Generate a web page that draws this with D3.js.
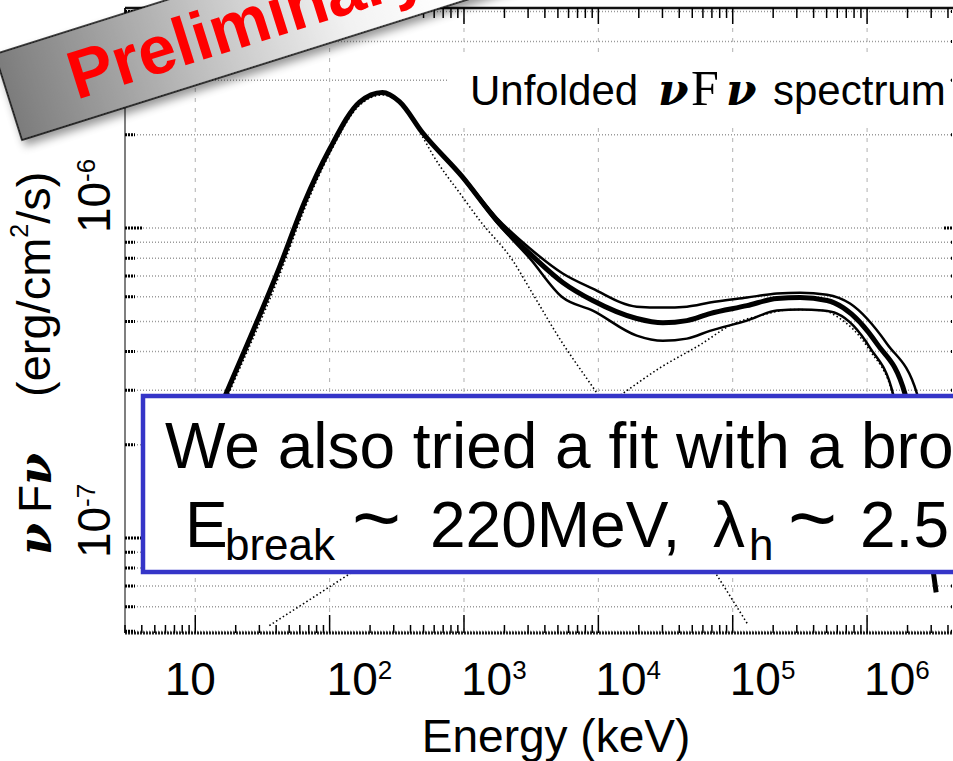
<!DOCTYPE html>
<html>
<head>
<meta charset="utf-8">
<script src="https://cdn.jsdelivr.net/npm/d3@7"></script>
<style>
  html, body { margin: 0; padding: 0; background: #fff; overflow: hidden; }
  svg { display: block; font-family: "Liberation Sans", Arial, sans-serif; }
</style>
</head>
<body>
<script>
// ---- data: energy (keV) vs nuFnu (erg/cm2/s) ----
var totalE = [10, 17.3, 42.3, 64.9, 99.5, 167, 247, 331, 492, 977, 1750, 3080, 5430, 9080,
              19300, 30200, 45600, 67600, 127600, 213300, 317000, 503500, 662200,
              1.186e6, 1.919e6, 2.483e6, 3.266e6];
var totalF = [1.71e-7, 2.98e-7, 7.47e-7, 1.21e-6, 1.79e-6, 2.55e-6, 2.74e-6, 2.56e-6, 2.03e-6, 1.46e-6,
              1.06e-6, 8.29e-7, 6.68e-7, 5.84e-7, 5.11e-7, 4.95e-7, 5.03e-7, 5.30e-7, 5.62e-7,
              5.93e-7, 5.97e-7, 5.84e-7, 5.54e-7, 4.23e-7, 2.91e-7, 1.52e-7, 6.68e-8];

var upperE = [10, 17.3, 42.3, 64.9, 99.5, 167, 247, 331, 492, 977, 1750, 3080, 5430, 9080,
              19300, 30200, 45600, 67600, 127600, 213300, 317000, 503500, 746500,
              1.409e6, 2.360e6, 3.214e6];
var upperF = [1.71e-7, 2.98e-7, 7.47e-7, 1.21e-6, 1.79e-6, 2.55e-6, 2.74e-6, 2.56e-6, 2.03e-6, 1.47e-6,
              1.08e-6, 8.61e-7, 7.14e-7, 6.38e-7, 5.58e-7, 5.54e-7, 5.58e-7, 5.75e-7, 5.97e-7,
              6.15e-7, 6.19e-7, 6.10e-7, 5.71e-7, 4.23e-7, 2.91e-7, 1.26e-7];

var lowerE = [10, 17.3, 42.3, 64.9, 99.5, 167, 247, 331, 492, 977, 1750, 3080, 5430, 9080,
              19300, 30200, 45600, 67600, 127600, 213300, 317000, 470000, 598400,
              1.052e6, 1.563e6, 2.280e6];
var lowerF = [1.71e-7, 2.98e-7, 7.47e-7, 1.21e-6, 1.79e-6, 2.55e-6, 2.74e-6, 2.56e-6, 2.03e-6, 1.45e-6,
              1.045e-6, 8.00e-7, 5.97e-7, 5.42e-7, 4.50e-7, 4.33e-7, 4.40e-7, 4.66e-7, 5.03e-7,
              5.42e-7, 5.46e-7, 5.42e-7, 5.30e-7, 4.11e-7, 2.91e-7, 8.36e-8];

// dotted components
var bandE = [10, 17.3, 42.3, 64.9, 99.5, 167, 247, 331, 492, 583, 977, 1306, 2300, 3240, 5150, 9730, 76200, 129700];
var bandF = [1.64e-7, 2.85e-7, 7.04e-7, 1.15e-6, 1.73e-6, 2.49e-6, 2.69e-6, 2.53e-6, 1.97e-6, 1.73e-6,
             1.26e-6, 1.06e-6, 7.87e-7, 6.15e-7, 4.40e-7, 2.94e-7, 7.59e-8, 5.26e-8];

var extraE = [35.6, 136, 14900, 28700, 57000, 100200, 159600, 281200, 470000, 598400, 1.052e6, 1.563e6, 2.28e6];
var extraF = [5.22e-8, 7.59e-8, 2.91e-7, 3.54e-7, 4.20e-7, 4.90e-7, 5.22e-7, 5.46e-7, 5.42e-7, 5.18e-7,
              4.02e-7, 2.87e-7, 8.0e-8];

// tick labels
var xLabelVals = [10, 1e2, 1e3, 1e4, 1e5, 1e6];
var xLabelExp  = ["", "2", "3", "4", "5", "6"];
var yLabelVals = [1e-6, 1e-7];
var yLabelExp  = ["-6", "-7"];

var titleText = "Unfolded";
var titleTail = "spectrum";
var noteLine1 = "We also tried a fit with a bro";

// ---- layout ----
var width = 953, height = 761;
var mLeft = 125, mRight = 961, mTop = 8, mBottom = 633;

var svg = d3.select("body").append("svg")
            .attr("width", width)
            .attr("height", height);

var x = d3.scaleLog().domain([3, 5e6]).range([mLeft, mRight]);
var y = d3.scaleLog().domain([4.94e-8, 5.13e-6]).range([mBottom, mTop]);

function isMajor(v) {
  var l = Math.log10(v);
  return Math.abs(l - Math.round(l)) < 1e-6;
}

var xt = x.ticks(), yt = y.ticks();

// grid
svg.append("g").selectAll("line")
   .data(yt).enter().append("line")
   .attr("x1", mLeft).attr("x2", mRight)
   .attr("y1", function(d){ return y(d); })
   .attr("y2", function(d){ return y(d); })
   .attr("stroke", "#9a9a9a").attr("stroke-width", 1.5)
   .attr("stroke-dasharray", "1,2");

svg.append("g").selectAll("line")
   .data(xt.filter(isMajor)).enter().append("line")
   .attr("x1", function(d){ return x(d); })
   .attr("x2", function(d){ return x(d); })
   .attr("y1", mTop).attr("y2", mBottom)
   .attr("stroke", "#b0b0b0").attr("stroke-width", 1)
   .attr("stroke-dasharray", "4,6");

// curves
var line = d3.line()
             .x(function(d){ return x(d[0]); })
             .y(function(d){ return y(d[1]); })
             .curve(d3.curveMonotoneX);

function drawCurve(es, fs, w, dash) {
  svg.append("path")
     .attr("d", line(d3.zip(es, fs)))
     .attr("fill", "none")
     .attr("stroke", "#000")
     .attr("stroke-width", w)
     .attr("stroke-dasharray", dash)
     .attr("stroke-linejoin", "round");
}

drawCurve(bandE, bandF, 1.6, "1.5,2.5");
drawCurve(extraE, extraF, 1.6, "1.5,2.5");
drawCurve(upperE, upperF, 2.5, null);
drawCurve(lowerE, lowerF, 2.5, null);
drawCurve(totalE, totalF, 5, null);

// axes frame
svg.append("line").attr("x1", mLeft).attr("x2", mLeft).attr("y1", mTop).attr("y2", mBottom)
   .attr("stroke", "#555").attr("stroke-width", 1.5);
svg.append("line").attr("x1", mLeft).attr("x2", mRight).attr("y1", mTop).attr("y2", mTop)
   .attr("stroke", "#111").attr("stroke-width", 2.5);
svg.append("line").attr("x1", mLeft).attr("x2", mRight).attr("y1", mBottom).attr("y2", mBottom)
   .attr("stroke", "#222").attr("stroke-width", 3).attr("stroke-dasharray", "2,1");

// ticks (all pointing inward)
var tk = svg.append("g");
yt.forEach(function(t) {
  var len = isMajor(t) ? 18 : 10;
  tk.append("line").attr("x1", mLeft).attr("x2", mLeft + len)
    .attr("y1", y(t)).attr("y2", y(t))
    .attr("stroke", "#000").attr("stroke-width", 3).attr("stroke-dasharray", "2,1");
  tk.append("line").attr("x1", mRight).attr("x2", mRight - len)
    .attr("y1", y(t)).attr("y2", y(t))
    .attr("stroke", "#000").attr("stroke-width", 3).attr("stroke-dasharray", "2,1");
});
xt.forEach(function(t) {
  var maj = isMajor(t);
  tk.append("line").attr("x1", x(t)).attr("x2", x(t))
    .attr("y1", mBottom).attr("y2", mBottom - (maj ? 18 : 8))
    .attr("stroke", "#000").attr("stroke-width", 1.5);
  tk.append("line").attr("x1", x(t)).attr("x2", x(t))
    .attr("y1", mTop).attr("y2", mTop + (maj ? 16 : 10))
    .attr("stroke", "#000").attr("stroke-width", 1.5);
});

// x tick labels
xLabelVals.forEach(function(v, i) {
  var t = svg.append("text").attr("y", 695).attr("font-size", 46).attr("fill", "#000");
  if (xLabelExp[i] === "") {
    t.attr("x", x(v) - 5).attr("text-anchor", "middle").text("10");
  } else {
    t.attr("x", x(v) - 3);
    t.append("tspan").text("10");
    t.append("tspan").attr("dy", -16).attr("font-size", 26).text(xLabelExp[i]);
  }
});

svg.append("text").attr("x", 556).attr("y", 752)
   .attr("text-anchor", "middle").attr("font-size", 46)
   .text("Energy (keV)");

// y tick labels (rotated)
var yLabelShift = [5, 20];
yLabelVals.forEach(function(v, i) {
  var t = svg.append("text")
             .attr("transform", "translate(110," + (y(v) + yLabelShift[i]) + ") rotate(-90)")
             .attr("font-size", 46);
  t.append("tspan").text("10");
  t.append("tspan").attr("dy", -15).attr("font-size", 26).text(yLabelExp[i]);
});

// y axis title
var yt1 = svg.append("text")
             .attr("transform", "translate(51,555) rotate(-90)")
             .attr("font-size", 46);
yt1.append("tspan").attr("x", 0).attr("font-family", "DejaVu Serif")
   .attr("font-weight", "bold").attr("font-style", "italic").text("ν");
yt1.append("tspan").attr("x", 42).text("F");
yt1.append("tspan").attr("x", 70).attr("font-family", "DejaVu Serif")
   .attr("font-weight", "bold").attr("font-style", "italic").text("ν");

var yt2 = svg.append("text")
             .attr("transform", "translate(50,397) rotate(-90)")
             .attr("font-size", 47);
yt2.append("tspan").text("(erg/cm");
yt2.append("tspan").attr("dy", -22).attr("font-size", 25).text("2");
yt2.append("tspan").attr("dy", 22).text("/s)");

// plot title with white backing
svg.append("rect").attr("x", 447).attr("y", 55).attr("width", 501).attr("height", 68)
   .attr("fill", "#fff");
var ttl = svg.append("text").attr("y", 105).attr("font-size", 42);
ttl.append("tspan").attr("x", 470).text(titleText);
ttl.append("tspan").attr("x", 658).attr("font-family", "DejaVu Serif").attr("font-size", 44)
   .attr("font-weight", "bold").attr("font-style", "italic").text("ν");
ttl.append("tspan").attr("x", 691).attr("font-family", "Liberation Serif").attr("font-size", 50).text("F");
ttl.append("tspan").attr("x", 726).attr("font-family", "DejaVu Serif").attr("font-size", 44)
   .attr("font-weight", "bold").attr("font-style", "italic").text("ν");
ttl.append("tspan").attr("x", 773).text(titleTail);

// note box
svg.append("rect").attr("x", 143).attr("y", 396).attr("width", 900).attr("height", 176)
   .attr("fill", "#fff").attr("stroke", "#3535c8").attr("stroke-width", 4.5);

svg.append("text").attr("x", 165).attr("y", 468).attr("font-size", 64).text(noteLine1);

var n2 = svg.append("text").attr("font-size", 64);
n2.append("tspan").attr("x", 185).attr("y", 547).text("E");
n2.append("tspan").attr("x", 225).attr("y", 560).attr("font-size", 44).text("break");
n2.append("tspan").attr("x", 352).attr("y", 547).attr("font-size", 84).text("~");
n2.append("tspan").attr("x", 430).attr("y", 547).text("220MeV,");
n2.append("tspan").attr("x", 713).attr("y", 547).text("λ");
n2.append("tspan").attr("x", 749).attr("y", 560).attr("font-size", 44).text("h");
n2.append("tspan").attr("x", 788).attr("y", 547).attr("font-size", 84).text("~");
n2.append("tspan").attr("x", 860).attr("y", 547).text("2.5");

// "Preliminary" banner
var defs = svg.append("defs");
var grad = defs.append("linearGradient").attr("id", "bannerGrad")
               .attr("x1", 0).attr("x2", 1).attr("y1", 0).attr("y2", 0);
grad.append("stop").attr("offset", 0).attr("stop-color", "#7c7c7c");
grad.append("stop").attr("offset", 0.36).attr("stop-color", "#c2c2c2");
grad.append("stop").attr("offset", 0.62).attr("stop-color", "#f2f2f2");
grad.append("stop").attr("offset", 0.8).attr("stop-color", "#ffffff");

var shadow = defs.append("filter").attr("id", "bannerShadow")
                 .attr("x", "-10%").attr("y", "-20%").attr("width", "130%").attr("height", "160%");
shadow.append("feDropShadow").attr("dx", 2).attr("dy", 6).attr("stdDeviation", 4)
      .attr("flood-color", "#000").attr("flood-opacity", 0.4);

var banner = svg.append("g").attr("transform", "translate(22,140) rotate(-17.5)");
banner.append("rect").attr("x", 0).attr("y", -90).attr("width", 560).attr("height", 90)
      .attr("fill", "url(#bannerGrad)").attr("stroke", "#000").attr("stroke-width", 1.5)
      .attr("filter", "url(#bannerShadow)");
banner.append("text").attr("x", 64).attr("y", -22)
      .attr("font-size", 68).attr("font-weight", "bold").attr("fill", "#ff0000")
      .text("Preliminary");
</script>
</body>
</html>
